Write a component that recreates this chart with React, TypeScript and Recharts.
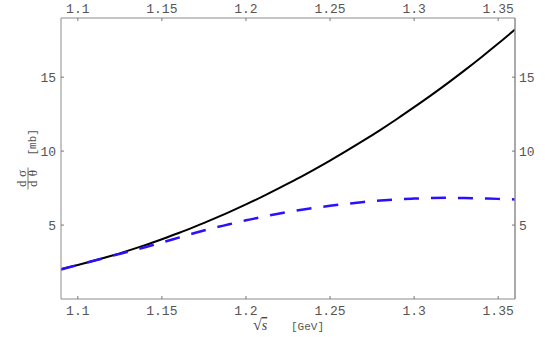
import React from 'react';
import { LineChart, Line, XAxis, YAxis, Label } from 'recharts';

// sqrt(s) in GeV
const energies = [
  1.09, 1.1, 1.11, 1.12, 1.13, 1.14, 1.15, 1.16, 1.17, 1.18, 1.19, 1.2, 1.21, 1.22,
  1.23, 1.24, 1.25, 1.26, 1.27, 1.28, 1.29, 1.3, 1.31, 1.32, 1.33, 1.34, 1.35, 1.36,
];
// dσ/dθ [mb], solid black curve
const solidValues = [
  2.02, 2.3, 2.6, 2.92, 3.27, 3.64, 4.04, 4.46, 4.91, 5.38, 5.88, 6.4, 6.94, 7.51,
  8.1, 8.72, 9.36, 10.03, 10.72, 11.44, 12.19, 12.97, 13.77, 14.6, 15.46, 16.35, 17.27, 18.22,
];
// dσ/dθ [mb], dashed blue curve
const dashedValues = [
  2.0, 2.3, 2.6, 2.9, 3.2, 3.5, 3.82, 4.15, 4.48, 4.78, 5.05, 5.32, 5.56, 5.78,
  5.98, 6.15, 6.3, 6.44, 6.56, 6.66, 6.74, 6.79, 6.83, 6.84, 6.83, 6.8, 6.77, 6.73,
];
const xTicks = [1.1, 1.15, 1.2, 1.25, 1.3, 1.35];
const yTicks = [5, 10, 15];
const xDomain: [number, number] = [1.09, 1.36];
const yDomain: [number, number] = [0, 19];

const data = energies.map((s, i) => ({ s, solid: solidValues[i], dashed: dashedValues[i] }));

const MONO = "'Liberation Mono', 'DejaVu Sans Mono', monospace";
const SERIF = "'Liberation Serif', 'DejaVu Serif', serif";
const TICK_COLOR = '#777';
const LABEL_COLOR = '#555';
const FRAME = '#8c8c8c';

const fmt = (v: number) => String(Math.round(v * 1000) / 1000);

const BottomTick = (p: any) => (
  <g>
    <line x1={p.x} y1={p.y} x2={p.x} y2={p.y - 3} stroke={TICK_COLOR} strokeWidth={1} />
    <text x={p.x} y={p.y + 16} textAnchor="middle" fontFamily={MONO} fontSize={13} fill={LABEL_COLOR}>
      {fmt(p.payload.value)}
    </text>
  </g>
);
const TopTick = (p: any) => (
  <g>
    <line x1={p.x} y1={p.y} x2={p.x} y2={p.y + 3} stroke={TICK_COLOR} strokeWidth={1} />
    <text x={p.x} y={p.y - 5} textAnchor="middle" fontFamily={MONO} fontSize={13} fill={LABEL_COLOR}>
      {fmt(p.payload.value)}
    </text>
  </g>
);
const LeftTick = (p: any) => (
  <g>
    <line x1={p.x} y1={p.y} x2={p.x + 3} y2={p.y} stroke={TICK_COLOR} strokeWidth={1} />
    <text x={p.x - 5} y={p.y + 4.5} textAnchor="end" fontFamily={MONO} fontSize={13} fill={LABEL_COLOR}>
      {fmt(p.payload.value)}
    </text>
  </g>
);
const RightTick = (p: any) => (
  <g>
    <line x1={p.x} y1={p.y} x2={p.x - 3} y2={p.y} stroke={TICK_COLOR} strokeWidth={1} />
    <text x={p.x + 4} y={p.y + 4.5} textAnchor="start" fontFamily={MONO} fontSize={13} fill={LABEL_COLOR}>
      {fmt(p.payload.value)}
    </text>
  </g>
);

const YLabelContent = (props: any) => {
  const vb = props.viewBox || { x: 0, y: 0, width: 0, height: 0 };
  const cx = vb.x + 6.5;
  const cy = vb.y + vb.height / 2;
  return (
    <g transform={`translate(${cx}, ${cy}) rotate(-90)`}>
      <text x={-20} y={-1.5} textAnchor="middle" fontFamily={SERIF} fontSize={13} fill="#444"
        textLength={17} lengthAdjust="spacing">dσ</text>
      <line x1={-31} y1={0.5} x2={-9} y2={0.5} stroke="#555" strokeWidth={0.8} />
      <text x={-20} y={9.5} textAnchor="middle" fontFamily={SERIF} fontSize={13} fill="#444"
        textLength={17} lengthAdjust="spacing">dθ</text>
      <text x={3} y={8.5} textAnchor="start" fontFamily={MONO} fontSize={11} fill={LABEL_COLOR}>[mb]</text>
    </g>
  );
};

const XLabelContent = (props: any) => {
  const vb = props.viewBox || { x: 0, y: 0, width: 0, height: 0 };
  const cx = vb.x + vb.width / 2;
  const by = vb.y + 31;
  return (
    <g>
      <text x={cx - 35} y={by} fontFamily={SERIF} fontSize={16} fill="#444">
        <tspan>√</tspan>
        <tspan fontStyle="italic" fontSize={14} textDecoration="overline">s</tspan>
      </text>
      <text x={cx + 3} y={by} fontFamily={MONO} fontSize={11} fill={LABEL_COLOR}>[GeV]</text>
    </g>
  );
};

export default function App() {
  return (
    <div style={{ position: 'absolute', left: 0, top: 0, width: 545, height: 337, background: '#fff' }}>
      <LineChart width={545} height={337} data={data} margin={{ top: 0, right: 0, bottom: 0, left: 21 }}>
        <XAxis
          xAxisId="bottom"
          orientation="bottom"
          dataKey="s"
          type="number"
          domain={xDomain}
          ticks={xTicks}
          allowDataOverflow
          height={38}
          tickSize={0}
          tickMargin={0}
          tickLine={false}
          axisLine={{ stroke: FRAME, strokeWidth: 1 }}
          tick={BottomTick}
          interval={0}
        >
          <Label content={XLabelContent} />
        </XAxis>
        <XAxis
          xAxisId="top"
          orientation="top"
          dataKey="s"
          type="number"
          domain={xDomain}
          ticks={xTicks}
          allowDataOverflow
          height={18}
          tickSize={0}
          tickMargin={0}
          tickLine={false}
          axisLine={{ stroke: FRAME, strokeWidth: 1 }}
          tick={TopTick}
          interval={0}
        />
        <YAxis
          yAxisId="left"
          orientation="left"
          type="number"
          domain={yDomain}
          ticks={yTicks}
          allowDataOverflow
          width={40}
          tickSize={0}
          tickMargin={0}
          tickLine={false}
          axisLine={{ stroke: FRAME, strokeWidth: 1 }}
          tick={LeftTick}
          interval={0}
        >
          <Label content={YLabelContent} />
        </YAxis>
        <YAxis
          yAxisId="right"
          orientation="right"
          type="number"
          domain={yDomain}
          ticks={yTicks}
          allowDataOverflow
          width={30}
          tickSize={0}
          tickMargin={0}
          tickLine={false}
          axisLine={{ stroke: FRAME, strokeWidth: 1.5 }}
          tick={RightTick}
          interval={0}
        />
        <Line
          xAxisId="bottom"
          yAxisId="left"
          type="monotone"
          dataKey="solid"
          stroke="#000"
          strokeWidth={2}
          dot={false}
          activeDot={false}
          isAnimationActive={false}
        />
        <Line
          xAxisId="bottom"
          yAxisId="left"
          type="monotone"
          dataKey="dashed"
          stroke="#2a10ff"
          strokeWidth={2.5}
          strokeDasharray="15 12"
          dot={false}
          activeDot={false}
          isAnimationActive={false}
        />
        <Line
          xAxisId="top"
          yAxisId="right"
          dataKey="solid"
          stroke="none"
          dot={false}
          activeDot={false}
          legendType="none"
          isAnimationActive={false}
        />
      </LineChart>
    </div>
  );
}
